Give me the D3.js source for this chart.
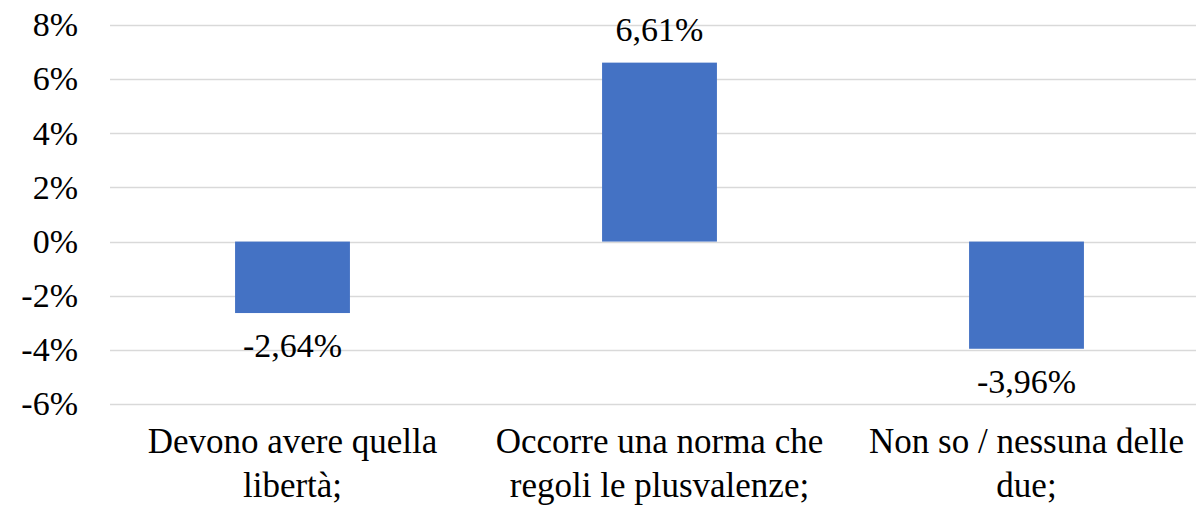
<!DOCTYPE html>
<html>
<head>
<meta charset="utf-8">
<style>
body {
  margin: 0;
  background: #fff;
}
.grid line {
  stroke: #d9d9d9;
  stroke-width: 1.5px;
}
.bar {
  fill: #4472c4;
}
</style>
</head>
<body>
<script src="https://d3js.org/d3.v7.min.js"></script>
<script>
var categories = [
  ["Devono avere quella", "libertà;"],
  ["Occorre una norma che", "regoli le plusvalenze;"],
  ["Non so / nessuna delle", "due;"]
];
var values = [-2.64, 6.61, -3.96];
var valueLabels = ["-2,64%", "6,61%", "-3,96%"];
var yTicks = [-6, -4, -2, 0, 2, 4, 6, 8];

(function() {
  var W = 1196, H = 507,
      font = "'Liberation Serif', Tinos, serif",
      fontSize = 34;

  if (document.fonts && document.fonts.load) {
    document.fonts.load(fontSize + "px 'Liberation Serif'");
  }

  var svg = d3.select("body").append("svg")
    .attr("width", W)
    .attr("height", H);

  var x = d3.scaleBand()
    .domain(d3.range(values.length))
    .range([109, 1210])
    .paddingInner(0.687)
    .paddingOuter(0.3435);

  var y = d3.scaleLinear()
    .domain([-6, 8])
    .range([404, 25]);

  // gridlines
  svg.append("g").attr("class", "grid")
    .selectAll("line")
    .data(yTicks)
    .join("line")
    .attr("x1", 110)
    .attr("x2", W)
    .attr("y1", function(d) { return Math.round(y(d)) + 0.5; })
    .attr("y2", function(d) { return Math.round(y(d)) + 0.5; });

  // y tick labels
  svg.append("g")
    .selectAll("text")
    .data(yTicks)
    .join("text")
    .attr("x", 78)
    .attr("y", function(d) { return y(d); })
    .attr("dy", "0.33em")
    .attr("text-anchor", "end")
    .style("font-family", font, "important")
    .style("font-size", fontSize + "px")
    .style("fill", "#000")
    .text(function(d) { return d + "%"; });

  // bars
  svg.append("g")
    .selectAll("rect")
    .data(values)
    .join("rect")
    .attr("class", "bar")
    .attr("x", function(d, i) { return x(i); })
    .attr("width", x.bandwidth())
    .attr("y", function(d) { return y(Math.max(0, d)); })
    .attr("height", function(d) { return Math.abs(y(d) - y(0)); });

  // value labels
  svg.append("g")
    .selectAll("text")
    .data(values)
    .join("text")
    .attr("x", function(d, i) { return x(i) + x.bandwidth() / 2; })
    .attr("y", function(d) { return d >= 0 ? y(d) - 22 : y(d) + 44; })
    .attr("text-anchor", "middle")
    .style("font-family", font, "important")
    .style("font-size", fontSize + "px")
    .style("fill", "#000")
    .text(function(d, i) { return valueLabels[i]; });

  // category labels
  var cat = svg.append("g")
    .selectAll("text")
    .data(categories)
    .join("text")
    .attr("x", function(d, i) { return x(i) + x.bandwidth() / 2; })
    .attr("y", 453)
    .attr("text-anchor", "middle")
    .style("font-family", font, "important")
    .style("font-size", (fontSize + 1) + "px")
    .style("fill", "#000");

  cat.selectAll("tspan")
    .data(function(d) { return d; })
    .join("tspan")
    .attr("x", function() { return d3.select(this.parentNode).attr("x"); })
    .attr("dy", function(d, j) { return j === 0 ? 0 : 44; })
    .text(function(d) { return d; });
})();
</script>
</body>
</html>
